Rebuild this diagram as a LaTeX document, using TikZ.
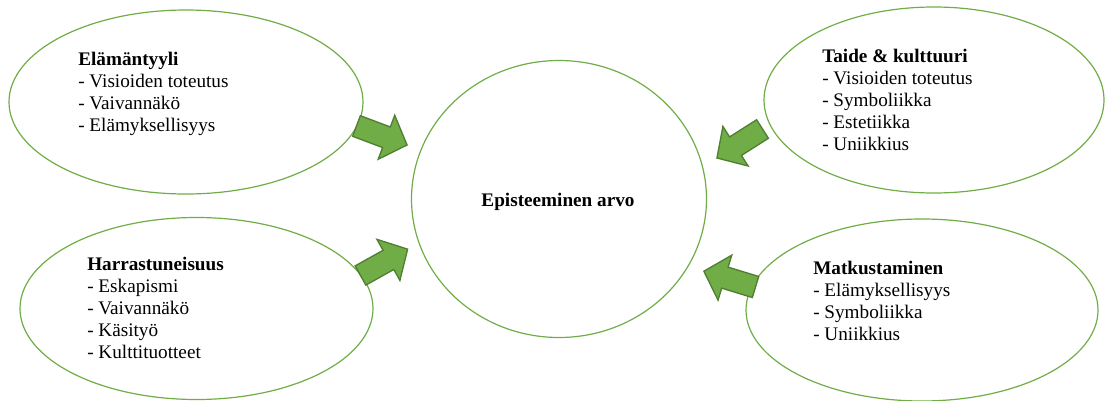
\documentclass[tikz,border=0pt]{standalone}
\usepackage{fontspec}
\setmainfont{Liberation Serif}
\usetikzlibrary{shapes.geometric}
\definecolor{ogreen}{HTML}{70AD47}
\definecolor{dgreen}{HTML}{507E32}
\tikzset{
  bubble/.style={ellipse, draw=ogreen, line width=0.9pt, inner sep=0pt},
  lbl/.style={anchor=base west, inner sep=0pt, font=\fontsize{14.4}{16.5}\selectfont},
  blockstyle/.style={fill=ogreen, draw=dgreen, line width=1pt, line join=miter}
}
\newcommand\myblockarrow[2]{%
  \filldraw[blockstyle, shift={#1}, rotate=#2]
     (0,-11) -- (32,-11) -- (32,-23.5) -- (54,0) -- (32,23.5) -- (32,11) -- (0,11) -- cycle;}
\begin{document}
\begin{tikzpicture}[x=0.75pt,y=-0.75pt]
\useasboundingbox (0,0) rectangle (1106,400);
% bubbles
\node[bubble, minimum width=265.5pt, minimum height=138pt] (tl) at (186,102) {};
\node[bubble, minimum width=255pt, minimum height=139.5pt] (tr) at (934,100) {};
\node[bubble, minimum width=264.75pt, minimum height=136.5pt] (bl) at (196.5,308.5) {};
\node[bubble, minimum width=264pt, minimum height=136.5pt] (br) at (922,310) {};
\node[bubble, minimum width=221.25pt, minimum height=207.75pt] (c) at (559,199) {};
% texts
\node[lbl] (tltext) at (78,65) {\begin{tabular}[t]{@{}l@{}}\textbf{Elämäntyyli}\\- Visioiden toteutus\\- Vaivannäkö\\- Elämyksellisyys\end{tabular}};
\node[lbl] (trtext) at (822,62) {\begin{tabular}[t]{@{}l@{}}\textbf{Taide \& kulttuuri}\\- Visioiden toteutus\\- Symboliikka\\- Estetiikka\\- Uniikkius\end{tabular}};
\node[lbl] (bltext) at (87,270) {\begin{tabular}[t]{@{}l@{}}\textbf{Harrastuneisuus}\\- Eskapismi\\- Vaivannäkö\\- Käsityö\\- Kulttituotteet\end{tabular}};
\node[lbl] (brtext) at (813,274) {\begin{tabular}[t]{@{}l@{}}\textbf{Matkustaminen}\\- Elämyksellisyys\\- Symboliikka\\- Uniikkius\end{tabular}};
\node[lbl, anchor=base] (ctext) at (558,206) {\textbf{Episteeminen arvo}};
% block arrows
\myblockarrow{(356.5,126)}{-20.6}
\myblockarrow{(762.5,129)}{212.5}
\myblockarrow{(360.5,275.5)}{29.2}
\myblockarrow{(755.5,287)}{163}
\end{tikzpicture}
\end{document}
